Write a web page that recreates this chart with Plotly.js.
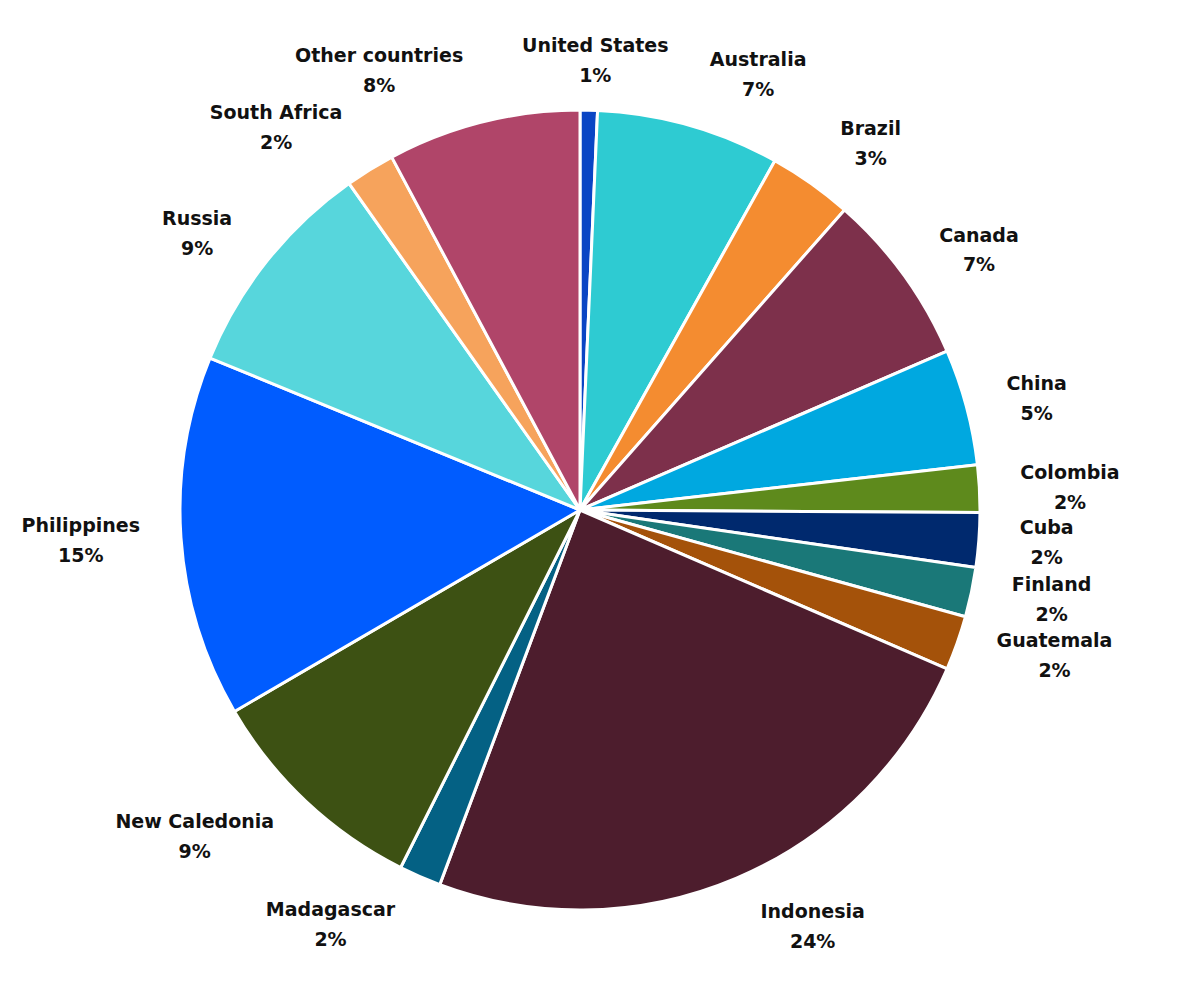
<!DOCTYPE html>
<html><head><meta charset="utf-8">
<script src="https://cdn.plot.ly/plotly-3.0.1.min.js"></script>
<style>html,body{margin:0;padding:0;background:#fff}#chart{width:1200px;height:1001px}</style>
</head><body><div id="chart"></div>
<script>
var countries = ["United States","Australia","Brazil","Canada","China","Colombia","Cuba","Finland","Guatemala","Indonesia","Madagascar","New Caledonia","Philippines","Russia","South Africa","Other countries"];
var shares = [0.7,7.4,3.4,7.0,4.7,1.9,2.2,2.0,2.2,24.2,1.7,9.2,14.6,9.0,2.0,7.8];
var sliceColors = ["#0a45c4","#2ecbd2","#f48c30","#7d304b","#00a8e0","#5e8a1c","#00296e","#1a7878","#a4520a","#4d1d2d","#046184","#3d5113","#005cff","#57d6dc","#f6a35c","#b04569"];

var W = 1200, H = 1001, cx = 580, cy = 510, R = 400, RL = 428;
var FONT = "DejaVu Sans, sans-serif";
function dom(r) {
  return {x: [(cx - r) / W, (cx + r) / W], y: [(H - cy - r) / H, (H - cy + r) / H]};
}
function lbl(a, b) {
  return "<span style='font-size:19px'><b>" + a + "</b></span><br><span style='font-size:19px'><b>" + b + "</b></span>";
}
var total = shares.reduce(function(s, v){ return s + v; }, 0);

var pieTrace = {
  type: "pie",
  labels: countries,
  values: shares,
  sort: false,
  direction: "clockwise",
  rotation: 0,
  domain: dom(R),
  marker: {colors: sliceColors, line: {color: "#ffffff", width: 3}},
  textinfo: "none",
  automargin: false
};
// label ring (transparent) carrying the outside labels, slightly larger radius
var labelTrace = {
  type: "pie",
  labels: countries,
  values: shares,
  sort: false,
  direction: "clockwise",
  rotation: 0,
  domain: dom(RL),
  marker: {colors: countries.map(function(){ return "rgba(0,0,0,0)"; }), line: {width: 0}},
  textposition: countries.map(function(c, i){ return i === 0 ? "none" : "outside"; }),
  texttemplate: lbl("%{label}", "%{percent:.0%}"),
  textfont: {family: FONT, size: 23, color: "#111111"},
  automargin: false
};
// the tiny first slice's label is centred above it
var midFrac = shares[0] / 2 / total;
var ang = 2 * Math.PI * midFrac;
var usAnn = {
  xref: "paper", yref: "paper",
  x: (cx + (R + 22) * Math.sin(ang) + 6) / W,
  y: (H - cy + (R + 22) * Math.cos(ang)) / H,
  xanchor: "center", yanchor: "bottom",
  showarrow: false,
  text: lbl(countries[0], Math.round(shares[0] / total * 100) + "%"),
  font: {family: FONT, size: 23, color: "#111111"}
};
var layout = {
  width: W, height: H,
  margin: {l: 0, r: 0, t: 0, b: 0},
  showlegend: false,
  paper_bgcolor: "#ffffff",
  annotations: [usAnn]
};
Plotly.newPlot("chart", [pieTrace, labelTrace], layout, {staticPlot: true});
</script></body></html>
